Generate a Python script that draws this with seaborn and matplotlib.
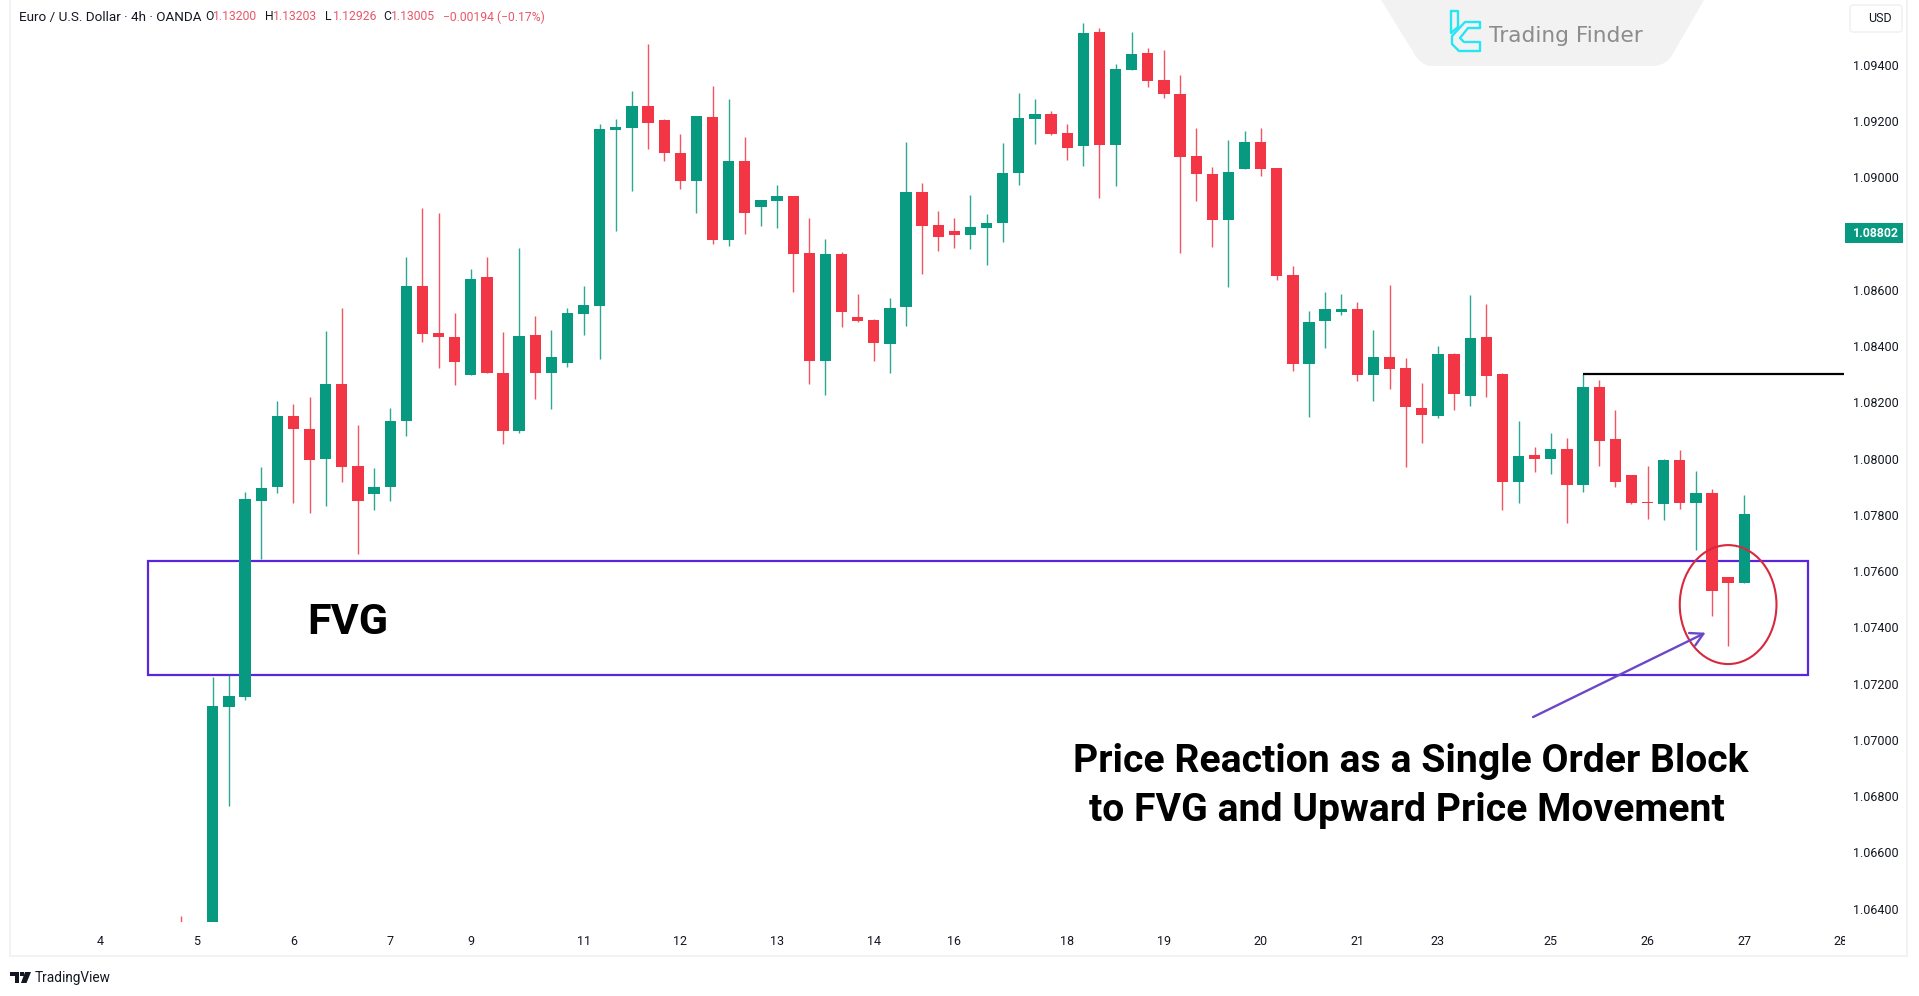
import numpy as np
import pandas as pd
import matplotlib
matplotlib.use("Agg")
import matplotlib.pyplot as plt
import seaborn as sns
from matplotlib.path import Path
from matplotlib.patches import PathPatch, Rectangle, Ellipse, FancyArrowPatch, FancyBboxPatch
from matplotlib.transforms import Affine2D, Bbox

opens = [1.06340,1.06200,1.06200,1.07118,1.07154,1.07851,1.07900,1.08152,1.08107,1.08000,
 1.08264,1.07974,1.07875,1.07900,1.08133,1.08615,1.08446,1.08433,1.08299,1.08645,
 1.08305,1.08099,1.08441,1.08303,1.08340,1.08514,1.08544,1.09170,1.09177,1.09254,
 1.09203,1.09088,1.08986,1.09216,1.08779,1.09058,1.08895,1.08915,1.08935,1.08731,
 1.08348,1.08728,1.08504,1.08492,1.08406,1.08539,1.08947,1.08831,1.08811,1.08795,
 1.08820,1.08837,1.09015,1.09209,1.09224,1.09158,1.09111,1.09518,1.09114,1.09383,
 1.09444,1.09348,1.09298,1.09075,1.09012,1.08849,1.09031,1.09125,1.09034,1.08653,
 1.08337,1.08489,1.08521,1.08532,1.08299,1.08363,1.08321,1.08180,1.08153,1.08371,
 1.08224,1.08433,1.08301,1.07917,1.08014,1.08000,1.08035,1.07905,1.08256,1.08069,
 1.07941,1.07845,1.07839,1.07995,1.07842,1.07878,1.07580,1.07557]
highs = [1.06375,1.06300,1.07223,1.07231,1.07883,1.07969,1.08205,1.08193,1.08220,1.08454,
 1.08537,1.08118,1.07966,1.08180,1.08716,1.08890,1.08872,1.08517,1.08673,1.08716,
 1.08449,1.08748,1.08507,1.08457,1.08536,1.08615,1.09190,1.09207,1.09307,1.09473,
 1.09208,1.09153,1.09217,1.09324,1.09279,1.09143,1.08919,1.08972,1.08935,1.08856,
 1.08781,1.08736,1.08587,1.08495,1.08570,1.09125,1.08980,1.08881,1.08856,1.08939,
 1.08869,1.09121,1.09299,1.09279,1.09236,1.09191,1.09548,1.09530,1.09402,1.09518,
 1.09460,1.09452,1.09365,1.09175,1.09038,1.09133,1.09166,1.09175,1.09034,1.08686,
 1.08524,1.08591,1.08587,1.08557,1.08457,1.08616,1.08358,1.08268,1.08399,1.08374,
 1.08582,1.08550,1.08306,1.08134,1.08040,1.08090,1.08072,1.08301,1.08280,1.08173,
 1.07943,1.07974,1.07999,1.08031,1.07957,1.07893,1.07580,1.07869]
lows = [1.06200,1.06100,1.06150,1.06766,1.07142,1.07642,1.07877,1.07843,1.07805,1.07832,
 1.07918,1.07661,1.07817,1.07849,1.08082,1.08414,1.08322,1.08261,1.08299,1.08303,
 1.08053,1.08092,1.08211,1.08178,1.08327,1.08440,1.08355,1.08811,1.08953,1.09102,
 1.09060,1.08960,1.08875,1.08762,1.08757,1.08799,1.08827,1.08820,1.08593,1.08265,
 1.08227,1.08467,1.08485,1.08347,1.08306,1.08472,1.08658,1.08737,1.08749,1.08746,
 1.08687,1.08770,1.08974,1.09119,1.09152,1.09063,1.09039,1.08927,1.08970,1.09383,
 1.09322,1.09284,1.08732,1.08915,1.08754,1.08609,1.09031,1.09006,1.08634,1.08312,
 1.08149,1.08393,1.08510,1.08277,1.08204,1.08249,1.07971,1.08054,1.08146,1.08173,
 1.08187,1.08220,1.07817,1.07842,1.07954,1.07945,1.07772,1.07880,1.07975,1.07900,
 1.07839,1.07784,1.07781,1.07822,1.07676,1.07440,1.07334,1.07557]
closes = [1.06250,1.06250,1.07120,1.07157,1.07856,1.07894,1.08152,1.08104,1.07995,1.08264,
 1.07971,1.07851,1.07899,1.08135,1.08615,1.08444,1.08431,1.08345,1.08640,1.08303,
 1.08099,1.08437,1.08303,1.08363,1.08517,1.08545,1.09171,1.09179,1.09254,1.09192,
 1.09086,1.08986,1.09217,1.08779,1.09058,1.08875,1.08919,1.08935,1.08729,1.08348,
 1.08728,1.08521,1.08489,1.08410,1.08537,1.08947,1.08828,1.08788,1.08795,1.08823,
 1.08839,1.09017,1.09211,1.09224,1.09156,1.09106,1.09515,1.09114,1.09386,1.09440,
 1.09343,1.09296,1.09073,1.09011,1.08849,1.09021,1.09125,1.09031,1.08651,1.08337,
 1.08487,1.08532,1.08532,1.08299,1.08363,1.08320,1.08182,1.08154,1.08371,1.08229,
 1.08429,1.08295,1.07917,1.08011,1.08000,1.08035,1.07905,1.08256,1.08063,1.07917,
 1.07842,1.07841,1.07995,1.07842,1.07878,1.07528,1.07557,1.07803]
first_bar = 5
day_labels = ["4","5","6","7","9","11","12","13","14","16","18","19","20","21","23","25","26","27","28"]
day_bars = [0,6,12,18,23,30,36,42,48,53,60,66,72,78,83,90,96,102,108]
price_ticks = [1.064,1.066,1.068,1.070,1.072,1.074,1.076,1.078,1.080,1.082,1.084,1.086,1.088,1.090,1.092,1.094]
last_price = 1.08802
fvg_top, fvg_bottom = 1.07637, 1.07231
level_price = 1.08301

W, H = 1919, 996
GREEN, RED, PURPLE = "#089981", "#F23645", "#5B25DC"
SMALL = ["Roboto", "DejaVu Sans"]

sns.set_theme(style="white")
plt.rcParams["font.family"] = SMALL
plt.rcParams["axes.unicode_minus"] = False

fig = plt.figure(figsize=(W/100, H/100), dpi=100, facecolor="white")
PX = Affine2D().scale(1/W, -1/H).translate(0, 1) + fig.transFigure

X_LEFT, X_RIGHT, X_STEP, X0 = 10, 1845, 16.12, 100
PANE_BOTTOM = 922
ax = fig.add_axes([X_LEFT/W, 1-PANE_BOTTOM/H, (X_RIGHT-X_LEFT)/W, PANE_BOTTOM/H])
ax.patch.set_alpha(0)

df = pd.DataFrame({"bar": np.arange(first_bar, first_bar+len(opens)),
                   "open": opens, "high": highs, "low": lows, "close": closes})
df["up"] = df.close >= df.open
df["span"] = (df.close-df.open).abs()
df["base"] = df[["open","close"]].min(axis=1)

for flag, col in [(True, GREEN), (False, RED)]:
    sub = df[df.up == flag]
    ax.vlines(sub.bar, sub.low, sub.high, color=col, lw=1.0, alpha=.85, zorder=2)
    sns.barplot(data=sub, x="bar", y="span", native_scale=True, errorbar=None, width=.7,
                color=col, saturation=1, bottom=sub.base.values, linewidth=0, ax=ax, zorder=3)

SCALE = 28120
ax.set_ylim(1.09631-PANE_BOTTOM/SCALE, 1.09631)
ax.set_xlim((X_LEFT-X0)/X_STEP, (X_RIGHT-X0)/X_STEP)
for s in ax.spines.values():
    s.set_visible(False)
ax.grid(False)
ax.set(xlabel="", ylabel="")
ax.set_xticks(day_bars, day_labels)
ax.set_yticks(price_ticks, [f"{p:.5f}" for p in price_ticks])
ax.yaxis.tick_right()
ax.tick_params(axis="x", length=0, pad=9, labelsize=9, labelcolor="#131722")
ax.tick_params(axis="y", length=0, pad=5.5, labelsize=9, labelcolor="#131722")
for t in ax.get_xticklabels():
    t.set_clip_on(True)
    t.set_clip_box(Bbox.from_extents(0, 0, X_RIGHT, H))

# FVG zone, level, marker, arrow
ax.add_patch(Rectangle((2.98, fvg_bottom), 105.96-2.98, fvg_top-fvg_bottom, fill=False,
                       ec=PURPLE, lw=1.6, zorder=1))
ax.hlines(level_price, 92, 108.2, color="black", lw=1.6, zorder=4)
ax.add_patch(Ellipse((101.0, 1.07481), 6.0, .00423, fill=False, ec="#D8283E", lw=1.5, zorder=5))
ax.add_patch(FancyArrowPatch((88.9, 1.07081), (99.6, 1.07381), arrowstyle="->,head_length=9,head_width=5",
                             color="#6C48C8", lw=1.7, shrinkA=0, shrinkB=0, zorder=6))

def txt(x, y, s, **k):
    k.setdefault("va", "center"); k.setdefault("ha", "left")
    k.setdefault("fontsize", 9); k.setdefault("color", "#131722")
    return fig.text(x/W, 1-y/H, s, **k)

txt(347.5, 623, "FVG", ha="center", fontsize=31, fontweight="bold", color="black", zorder=8)
txt(1411, 762, "Price Reaction as a Single Order Block", ha="center", fontsize=28.2, fontweight="bold", color="black", zorder=8)
txt(1407, 810, "to FVG and Upward Price Movement", ha="center", fontsize=28.2, fontweight="bold", color="black", zorder=8)

# header
FADE = "#E8566A"
txt(19, 17, "Euro / U.S. Dollar · 4h · OANDA", fontsize=9.7)
for x, s, c in [(205,"O","#131722"),(213,"1.13200",FADE),
                (265,"H","#131722"),(273,"1.13203",FADE),(325,"L","#131722"),(333,"1.12926",FADE),
                (383,"C","#131722"),(391,"1.13005",FADE),(443,"−0.00194 (−0.17%)",FADE)]:
    txt(x, 17, s, color=c, fontsize=8.7)

# price axis furniture
for xs, ys in [([10,10],[0,956]), ([10,1907],[956,956]), ([1907,1907],[0,956])]:
    fig.add_artist(plt.Line2D(xs, ys, color="#F0F0F0", lw=1.2, transform=PX))
fig.add_artist(FancyBboxPatch((1850,5), 52, 27, boxstyle="round,pad=0,rounding_size=3",
                              fc="white", ec="#EFEFEF", lw=1, transform=PX))
txt(1868, 19, "USD", zorder=8)
fig.add_artist(Rectangle((1845,223), 58, 20, fc=GREEN, ec="none", transform=PX, zorder=6))
txt(1853, 233.5, f"{last_price:.5f}", color="white", fontweight="bold", fontsize=8.8, zorder=8)

# watermark
panel = Path([(1381,0),(1412,50),(1420,66),(1432,66),(1652,66),(1668,66),(1675,50),(1704,0),(1381,0)],
             [Path.MOVETO,Path.LINETO,Path.CURVE3,Path.LINETO,Path.LINETO,Path.CURVE3,Path.LINETO,Path.LINETO,Path.CLOSEPOLY])
fig.add_artist(PathPatch(panel, fc="#F2F2F2", ec="none", transform=PX, zorder=1))
CYAN = "#25E6F2"
for xs, ys in [([1451,1458,1458,1451,1451],[11,11,27,33,11]),
               ([1480,1480,1465,1452,1452,1459,1480,1480,1464,1460,1468,1480],[28,22,22,36,44,51,51,42,42,38,28,28])]:
    fig.add_artist(plt.Line2D(xs, ys, color=CYAN, lw=1.7, transform=PX, zorder=2))
txt(1489, 36, "Trading Finder", fontsize=15.6, color="#8C8C8C", family="DejaVu Sans", zorder=8)

# TradingView mark
for poly in [[(10,972),(19,972),(19,983),(15,983),(15,976),(10,976)],
             [(25,972),(31,972),(26.5,983),(21,983)],
             [(19.5,972),(23.5,972),(23.5,976),(19.5,976)]]:
    fig.add_artist(plt.Polygon(poly, fc="#131722", ec="none", transform=PX))
txt(35, 978, "TradingView", fontsize=9.8)

fig.savefig("out.png", dpi=100, facecolor="white")
